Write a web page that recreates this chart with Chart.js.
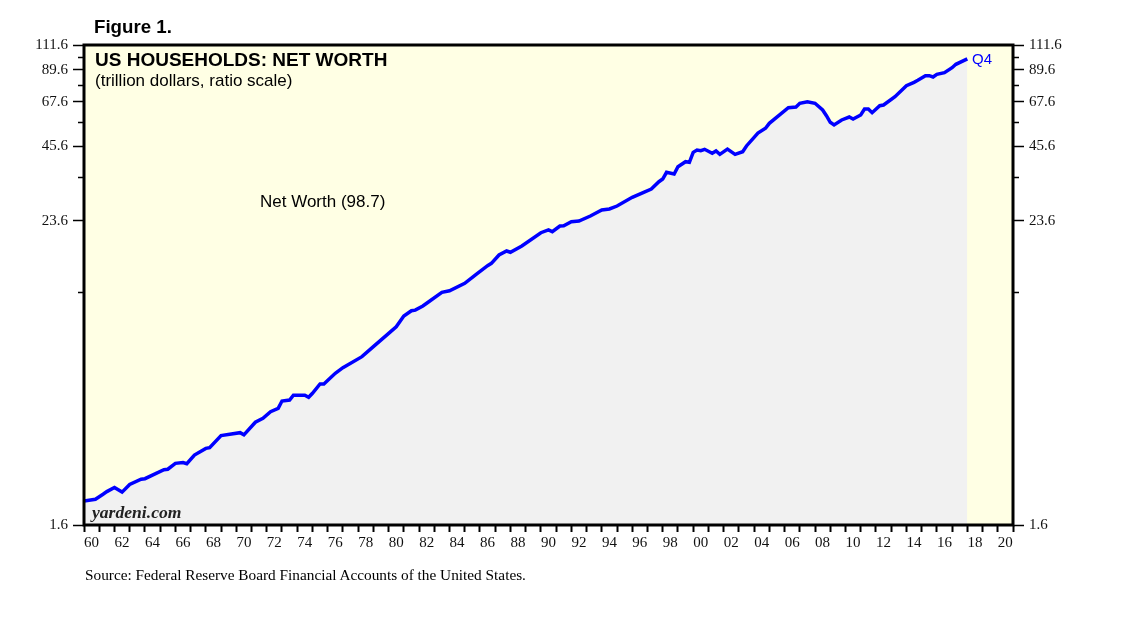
<!DOCTYPE html>
<html><head><meta charset="utf-8">
<script src="https://cdn.jsdelivr.net/npm/chart.js@4/dist/chart.umd.min.js"></script>
<style>
html,body{margin:0;padding:0;background:#fff;}
#wrap{position:relative;width:1138px;height:621px;overflow:hidden;background:#fff;}
#c{position:absolute;left:0;top:0;}
.t{position:absolute;white-space:nowrap;}
.sans{font-family:Arial,"Liberation Sans",sans-serif;}
.serif{font-family:"Times New Roman","Liberation Serif",serif;}
</style></head><body>
<div id="wrap">
<canvas id="c" width="1138" height="621"></canvas>
<div class="t sans" style="left:94px;top:17px;font-size:18.7px;line-height:19px;font-weight:bold;color:#000;">Figure 1.</div>
<div class="t sans" style="left:95px;top:50px;font-size:19px;line-height:19px;font-weight:bold;color:#000;">US HOUSEHOLDS: NET WORTH</div>
<div class="t sans" style="left:95px;top:72px;font-size:17px;line-height:17px;color:#000;">(trillion dollars, ratio scale)</div>
<div class="t sans" id="nwlab" style="left:260px;top:193px;font-size:17px;line-height:17px;color:#000;"></div>
<div class="t sans" style="left:972px;top:51px;font-size:15px;line-height:15px;color:#0000ff;">Q4</div>
<div class="t serif" style="left:92px;top:504px;font-size:17.6px;line-height:17px;font-weight:bold;font-style:italic;color:#222;">yardeni.com</div>
<div class="t serif" style="left:85px;top:567px;font-size:15.3px;line-height:15px;color:#000;">Source: Federal Reserve Board Financial Accounts of the United States.</div>
</div>
<script>
const quarters = ["1959Q4","1960Q3","1961Q1","1961Q2","1961Q4","1962Q2","1962Q4","1963Q3","1963Q4","1965Q1",
"1965Q2","1965Q4","1966Q2","1966Q3","1967Q1","1967Q4","1968Q1","1968Q4","1970Q1","1970Q2",
"1971Q1","1971Q3","1972Q1","1972Q3","1972Q4","1973Q2","1973Q3","1974Q2","1974Q3","1974Q4",
"1975Q2","1975Q3","1976Q2","1976Q4","1978Q1","1978Q4","1980Q1","1980Q2","1980Q4","1981Q2",
"1981Q3","1982Q1","1982Q2","1983Q2","1983Q4","1984Q4","1985Q3","1986Q2","1986Q3","1987Q1",
"1987Q3","1987Q4","1988Q3","1989Q4","1990Q2","1990Q3","1991Q1","1991Q2","1991Q4","1992Q2",
"1993Q1","1993Q4","1994Q2","1994Q4","1995Q4","1996Q3","1997Q1","1997Q3","1997Q4","1998Q1",
"1998Q3","1998Q4","1999Q2","1999Q3","1999Q4","2000Q1","2000Q2","2000Q3","2001Q1","2001Q2",
"2001Q3","2002Q1","2002Q3","2003Q1","2003Q2","2004Q1","2004Q3","2004Q4","2006Q1","2006Q3",
"2006Q4","2007Q2","2007Q4","2008Q2","2008Q3","2008Q4","2009Q1","2009Q3","2010Q1","2010Q2",
"2010Q4","2011Q1","2011Q2","2011Q3","2012Q1","2012Q2","2013Q1","2013Q4","2014Q2","2014Q3",
"2015Q1","2015Q2","2015Q3","2015Q4","2016Q2","2016Q4","2017Q1","2017Q4"];
const netWorth = [1.98,2.01,2.10,2.15,2.23,2.14,2.29,2.40,2.41,2.61,
2.62,2.76,2.78,2.75,2.97,3.15,3.17,3.53,3.62,3.55,
3.97,4.11,4.36,4.49,4.79,4.83,5.04,5.04,4.95,5.13,
5.57,5.57,6.12,6.43,7.09,7.75,8.97,9.24,10.16,10.64,
10.70,11.10,11.37,12.52,12.70,13.56,14.69,15.85,16.18,17.42,
18.05,17.85,18.86,21.22,21.74,21.42,22.51,22.57,23.38,23.52,
24.60,25.94,26.18,26.87,29.02,30.33,31.23,33.31,34.12,36.19,
35.66,38.05,39.76,39.56,43.20,44.09,43.82,44.37,42.82,43.70,
42.44,44.48,42.44,43.44,45.70,51.20,53.43,55.83,64.10,64.50,
66.65,67.59,66.65,62.81,59.71,56.34,55.01,57.50,59.04,58.00,
60.09,63.37,63.37,61.33,65.24,65.65,70.64,77.86,80.24,81.67,
85.06,85.06,84.09,86.12,87.35,91.30,94.09,98.7];
const majorTicks = [1.6, 23.6, 45.6, 67.6, 89.6, 111.6];
const minorTicks = [12.6, 34.6, 56.6, 78.6, 100.6];
const xFirstYear = 1960, xLastYear = 2020;
const lastLabel = "Net Worth";

// colours / styles
const CREAM = "#FFFFE4", GRAY = "#F1F1F1", BLUE = "#0000FF";

document.getElementById('nwlab').textContent = lastLabel + " (" + netWorth[netWorth.length-1].toFixed(1) + ")";

function qToX(q){ const y=+q.slice(0,4), n=+q.slice(5); return y + n/4; }
const points = quarters.map((q,i)=>({x:qToX(q), y:netWorth[i]}));

const framePlugin = {
  id:'frame',
  beforeDraw(chart){
    const {ctx, chartArea:a} = chart;
    ctx.save(); ctx.fillStyle = CREAM;
    ctx.fillRect(a.left, a.top, a.right-a.left, a.bottom-a.top);
    ctx.restore();
  },
  afterDraw(chart){
    const {ctx, chartArea:a, scales} = chart;
    ctx.save();
    ctx.strokeStyle = '#000'; ctx.lineWidth = 3;
    ctx.strokeRect(a.left, a.top, a.right-a.left, a.bottom-a.top);
    ctx.lineWidth = 1.5;
    minorTicks.forEach(v=>{
      const y = Math.round(scales.y.getPixelForValue(v))+0.5;
      ctx.beginPath();
      ctx.moveTo(a.left-6, y); ctx.lineTo(a.left, y);
      ctx.moveTo(a.right, y); ctx.lineTo(a.right+6, y);
      ctx.stroke();
    });
    ctx.restore();
  }
};

const isMajor = v => majorTicks.some(m=>Math.abs(m-v)<1e-6);
const allY = majorTicks.concat(minorTicks).sort((a,b)=>a-b);
const tickFont = {family:"'Times New Roman','Liberation Serif',serif", size:15};

function yAxis(pos, w){
  return {
    type:'logarithmic', position:pos, min:1.6, max:111.6,
    afterBuildTicks(s){ s.ticks = allY.map(v=>({value:v})); },
    afterFit(s){ s.width = w; },
    ticks:{ autoSkip:false, font:tickFont, color:'#111', padding:5,
      callback:(v)=> isMajor(v) ? (+v).toFixed(1) : '' },
    grid:{ drawOnChartArea:false, tickLength:11, tickWidth:1.5,
      tickColor:(ctx)=> (ctx.tick && isMajor(ctx.tick.value)) ? '#000' : 'rgba(0,0,0,0)' },
    border:{display:false}
  };
}

new Chart(document.getElementById('c'), {
  type:'line',
  data:{ datasets:[{
    label:'Net Worth', data:points, parsing:true,
    borderColor:BLUE, borderWidth:3.5, pointRadius:0, tension:0,
    fill:'start', backgroundColor:GRAY
  }]},
  options:{
    responsive:false, animation:false, devicePixelRatio:1,
    layout:{ padding:{ top:45, bottom:66, left:0, right:0 } },
    plugins:{ legend:{display:false}, tooltip:{enabled:false} },
    scales:{
      x:{
        type:'linear', position:'bottom', min:xFirstYear, max:xLastYear+1,
        afterBuildTicks(s){ const t=[]; for(let y=xFirstYear;y<=xLastYear+1;y++) t.push({value:y}); s.ticks=t; },
        afterFit(s){ s.height = 30; },
        ticks:{ autoSkip:false, maxRotation:0, font:tickFont, color:'#111', padding:2, labelOffset:7.6,
          callback:(v)=> (v%2===0 && v<=xLastYear) ? String(v%100).padStart(2,'0') : '' },
        grid:{ drawOnChartArea:false, tickLength:7, tickWidth:2, tickColor:'#000' },
        border:{display:false}
      },
      y: yAxis('left', 84),
      y2: yAxis('right', 125)
    }
  },
  plugins:[framePlugin]
});
</script>
</body></html>
